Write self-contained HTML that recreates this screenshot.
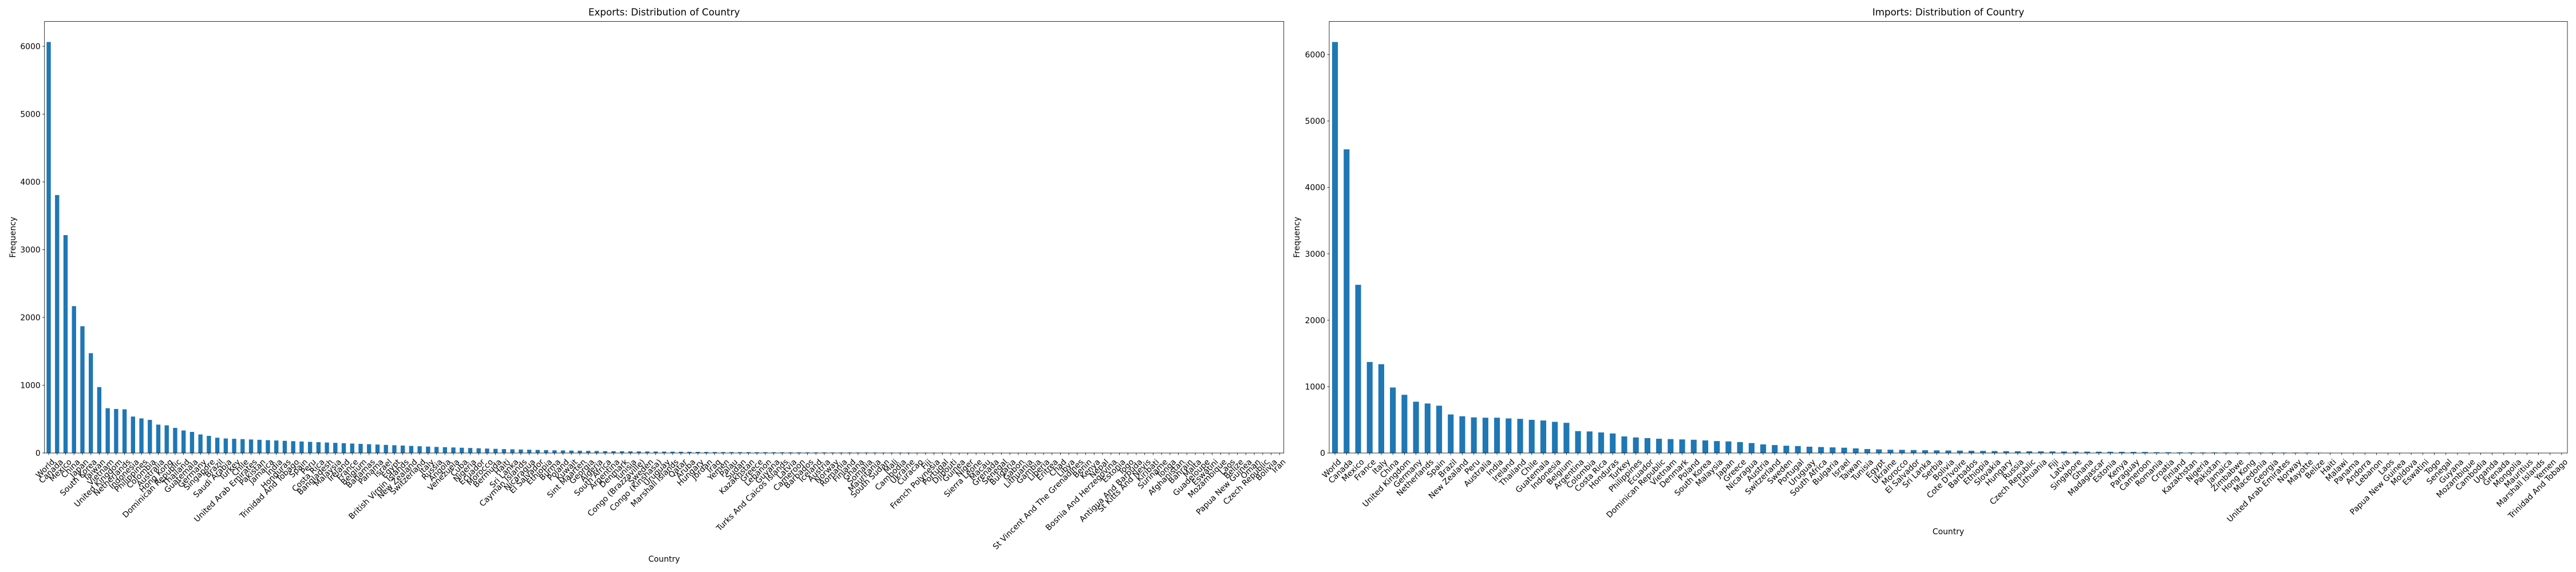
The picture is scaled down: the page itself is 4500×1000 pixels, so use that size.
<!DOCTYPE html>
<html><head><meta charset="utf-8"><style>
html,body{margin:0;padding:0;background:#fff;}
svg{display:block;font-family:"DejaVu Sans","Liberation Sans",sans-serif;}
</style></head><body>
<svg id="chart" width="4500" height="1000" viewBox="0 0 4500 1000" xmlns="http://www.w3.org/2000/svg"></svg>
<script>
const exportCountries = ["World","Canada","Mexico","China","Japan","South Korea","Taiwan","Vietnam","United Kingdom","Netherlands","Indonesia","Philippines","Colombia","Australia","Hong Kong","Dominican Republic","Thailand","Guatemala","Germany","Singapore","Brazil","Saudi Arabia","Turkey","Chile","United Arab Emirates","Pakistan","Jamaica","India","Honduras","Trinidad And Tobago","Spain","Peru","Costa Rica","Bangladesh","Malaysia","Ireland","France","Belgium","Bahamas","Panama","Israel","Egypt","British Virgin Islands","New Zealand","Switzerland","Italy","Russia","Angola","Venezuela","Cuba","Nigeria","Ecuador","Morocco","Bermuda","Haiti","Sri Lanka","Cayman Islands","Nicaragua","El Salvador","Ethiopia","Burma","Poland","Kuwait","Sint Maarten","Georgia","Algeria","South Africa","Argentina","Denmark","Tunisia","Congo (Brazzaville)","Sweden","Congo (Kinshasa)","Uruguay","Marshall Islands","Qatar","Aruba","Hungary","Jordan","Iraq","Yemen","Palau","Sudan","Kazakhstan","Greece","Lebanon","Guyana","Turks And Caicos Islands","Latvia","Cameroon","Barbados","Iceland","Austria","Norway","Romania","Finland","Ghana","Somalia","Mauritania","South Sudan","Mali","Cambodia","Ukraine","Curacao","Fiji","French Polynesia","Portugal","Djibouti","Guinea","Niger","Sierra Leone","Macau","Grenada","Senegal","Bulgaria","Gabon","Lithuania","Gambia","Liberia","Eritrea","Chad","Libya","St Vincent And The Grenadines","Benin","Kenya","Nepal","Bosnia And Herzegovina","Estonia","Togo","Antigua And Barbuda","St Kitts And Nevis","Kiribati","Suriname","Tonga","Afghanistan","Bahrain","Malta","Guadeloupe","Eswatini","Mozambique","Laos","Belize","Papua New Guinea","Oman","Czech Republic","Bolivia","Iran"];
const exportCounts = [6064,3806,3215,2167,1871,1473,973,661,650,645,538,511,489,419,409,371,333,312,274,253,226,215,
210,205,200,195,190,185,180,175,170,165,160,155,150,145,140,135,130,125,
120,115,110,105,100,95,90,86,82,78,74,70,66,62,58,55,52,49,46,43,
40,38,36,34,32,30,28,27,26,25,24,23,22,21,20,19,18,17,16,15,
14,14,13,13,12,12,11,11,10,10,9,9,9,8,8,8,7,7,7,6,
6,6,6,5,5,5,5,4,4,4,4,3,3,3,3,
2,2,2,2,2,2,2,2,2,2,2,2,2,1,1,1,1,1,1,1,1,1,1,1,1,1,1,1,1,1,1,1];
const importCountries = ["World","Canada","Mexico","France","Italy","China","United Kingdom","Germany","Netherlands","Spain","Brazil","New Zealand","Peru","Australia","India","Ireland","Thailand","Chile","Guatemala","Indonesia","Belgium","Argentina","Colombia","Costa Rica","Honduras","Turkey","Philippines","Ecuador","Dominican Republic","Vietnam","Denmark","Poland","South Korea","Malaysia","Japan","Greece","Nicaragua","Austria","Switzerland","Sweden","Portugal","Uruguay","South Africa","Bulgaria","Israel","Taiwan","Tunisia","Egypt","Ukraine","Morocco","El Salvador","Sri Lanka","Serbia","Bolivia","Cote D'Ivoire","Barbados","Ethiopia","Slovakia","Hungary","Russia","Czech Republic","Lithuania","Fiji","Latvia","Singapore","Ghana","Madagascar","Estonia","Kenya","Paraguay","Cameroon","Romania","Croatia","Finland","Kazakhstan","Nigeria","Pakistan","Jamaica","Zimbabwe","Hong Kong","Macedonia","Georgia","United Arab Emirates","Norway","Mayotte","Belize","Haiti","Malawi","Panama","Andorra","Lebanon","Laos","Papua New Guinea","Moldova","Eswatini","Togo","Senegal","Guyana","Mozambique","Cambodia","Uganda","Grenada","Mongolia","Mauritius","Marshall Islands","Yemen","Trinidad And Tobago"];
const importCounts = [6191,4574,2534,1371,1338,987,877,773,746,713,581,554,537,532,532,521,515,
500,490,470,455,330,325,310,295,250,235,225,215,210,205,200,190,180,175,165,150,130,120,110,105,95,90,85,80,70,60,55,50,48,45,42,40,38,36,34,32,30,28,27,26,25,24,23,22,21,20,19,18,17,16,12,12,11,9,8,8,8,7,7,7,7,6,6,6,5,
2,2,2,2,2,2,2,2,2,2,1,1,1,1,1,1,1,1,1,1,1];
const yTicks = [0,1000,2000,3000,4000,5000,6000];

const NS = "http://www.w3.org/2000/svg";
const svg = document.getElementById('chart');
function mk(tag, attrs, parent){ const e=document.createElementNS(NS,tag); for(const k in attrs) e.setAttribute(k,attrs[k]); (parent||svg).appendChild(e); return e; }

function drawPanel(cfg, cats, vals){
  const g = mk('g',{});
  
  
  const n = cats.length;
  const L=cfg.left, R=cfg.right, T=37.5, B=792;
  const ymax = Math.max(...vals)*1.05;
  const xs = i => L + (i+0.5)/n*(R-L);
  const ys = v => B - v/ymax*(B-T);
  const bw = 0.5/n*(R-L);
  vals.forEach((v,i)=>{
    const r = mk('rect',{x:xs(i)-bw/2,y:ys(v),width:bw,height:B-ys(v),fill:'#1f77b4'},g);
    
    
  });
  cats.forEach((c,i)=>{
    mk('line',{x1:xs(i),x2:xs(i),y1:B,y2:B+3.5,stroke:'#000','stroke-width':0.8},g);
    const t = mk('text',{transform:`translate(${xs(i)+4},${B+9}) rotate(-45)`,'text-anchor':'end','font-size':'13.9',dy:'0.75em',fill:'#000'},g);
    t.textContent = c;
    
    
  });
  yTicks.forEach(v=>{
    mk('line',{x1:L-3.5,x2:L,y1:ys(v),y2:ys(v),stroke:'#000','stroke-width':0.8},g);
    const t = mk('text',{x:L-7,y:ys(v)+5,'text-anchor':'end','font-size':'13.9',fill:'#000'},g);
    t.textContent = v;
    
    
  });
  const fr = mk('rect',{x:L,y:T,width:R-L,height:B-T,fill:'none',stroke:'#000','stroke-width':0.8},g);
  
  
  const title = mk('text',{x:(L+R)/2,y:27,'text-anchor':'middle','font-size':'16.7',fill:'#000'},g);
  title.textContent = cfg.title;
  
  
  const xl = mk('text',{x:(L+R)/2,y:cfg.xlabelY,'text-anchor':'middle','font-size':'13.9',fill:'#000'},g);
  xl.textContent = 'Country';
  
  
  const yl = mk('text',{transform:`translate(${cfg.ylabelX},${(T+B)/2}) rotate(-90)`,'text-anchor':'middle','font-size':'13.9',fill:'#000'},g);
  yl.textContent = 'Frequency';
  
  
}
drawPanel({name:'exports-chart',left:77.7,right:2242.7,title:'Exports: Distribution of Country',xlabelY:982,ylabelX:27},exportCountries,exportCounts);
drawPanel({name:'imports-chart',left:2322,right:4485,title:'Imports: Distribution of Country',xlabelY:934,ylabelX:2270},importCountries,importCounts);
</script>
</body></html>
